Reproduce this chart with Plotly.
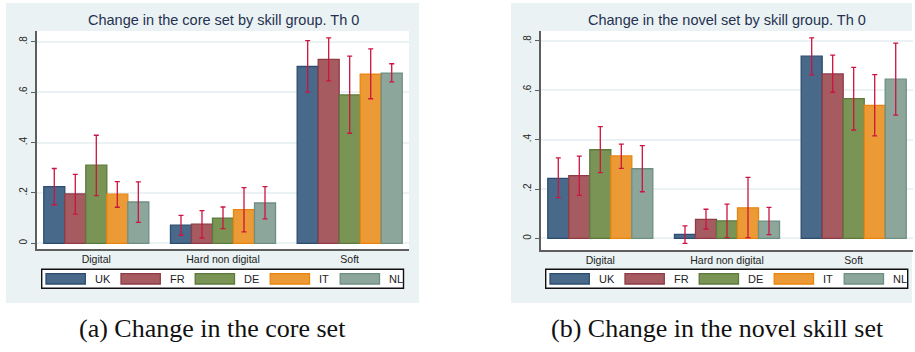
import numpy as np
import plotly.graph_objects as go

# ---------------- data ----------------
skill_groups = ["Digital", "Hard non digital", "Soft"]
countries = ["UK", "FR", "DE", "IT", "NL"]

# Panel (a): change in the core set
core_mean = {
    "UK": [0.225, 0.072, 0.702],
    "FR": [0.196, 0.076, 0.730],
    "DE": [0.310, 0.100, 0.589],
    "IT": [0.195, 0.134, 0.672],
    "NL": [0.164, 0.160, 0.676],
}
core_lo = {
    "UK": [0.153, 0.032, 0.600],
    "FR": [0.116, 0.021, 0.645],
    "DE": [0.189, 0.058, 0.437],
    "IT": [0.143, 0.045, 0.574],
    "NL": [0.083, 0.097, 0.641],
}
core_hi = {
    "UK": [0.297, 0.111, 0.805],
    "FR": [0.274, 0.130, 0.816],
    "DE": [0.429, 0.144, 0.743],
    "IT": [0.245, 0.221, 0.772],
    "NL": [0.244, 0.225, 0.713],
}

# Panel (b): change in the novel skill set
novel_mean = {
    "UK": [0.243, 0.016, 0.738],
    "FR": [0.254, 0.077, 0.666],
    "DE": [0.359, 0.071, 0.566],
    "IT": [0.334, 0.124, 0.539],
    "NL": [0.282, 0.070, 0.645],
}
novel_lo = {
    "UK": [0.165, -0.020, 0.662],
    "FR": [0.174, 0.038, 0.592],
    "DE": [0.266, 0.003, 0.439],
    "IT": [0.284, 0.003, 0.415],
    "NL": [0.189, 0.015, 0.499],
}
novel_hi = {
    "UK": [0.326, 0.051, 0.812],
    "FR": [0.333, 0.118, 0.742],
    "DE": [0.453, 0.139, 0.693],
    "IT": [0.382, 0.247, 0.663],
    "NL": [0.376, 0.126, 0.791],
}

y_tickvals = [0, 0.2, 0.4, 0.6, 0.8]
y_ticktext = ["0", ".2", ".4", ".6", ".8"]

titles = ["Change in the core set by skill group. Th 0",
          "Change in the novel set by skill group. Th 0"]
captions = ["(a) Change in the core set", "(b) Change in the novel skill set"]

# ---------------- style ----------------
W, H = 915, 352
fill_colors = {"UK": "#48698A", "FR": "#A65B60", "DE": "#7A9456", "IT": "#EC9A36", "NL": "#8CA69B"}
line_colors = {"UK": "#2C4D70", "FR": "#8F3C47", "DE": "#5B7A3B", "IT": "#E9850F", "NL": "#6F8E82"}
err_color = "#CC1440"
panel_bg = "#EAF2F3"
axis_col = "#5E5E5E"
font_sans = "Liberation Sans, Arial, sans-serif"


def px(x):
    return x / W


def py(y):
    return 1 - y / H


# panel geometry in pixels
panels = [
    dict(bg=(6, 3, 419, 303), plot=(37, 31, 409, 249), yr=[-0.0227, 0.843],
         legend=(41.7, 269.3, 403.5, 288.3), cap_x=212.5),
    dict(bg=(511, 3, 912, 303), plot=(541, 31, 913, 250), yr=[-0.047, 0.840],
         legend=(545.7, 269.3, 907.7, 288.3), cap_x=717),
]
data_sets = [(core_mean, core_lo, core_hi), (novel_mean, novel_lo, novel_hi)]

fig = go.Figure()
shapes = []
annotations = []

for k, (pan, (mean, lo, hi)) in enumerate(zip(panels, data_sets)):
    xa = "x" if k == 0 else "x2"
    ya = "y" if k == 0 else "y2"
    for c in countries:
        v = np.array(mean[c])
        fig.add_trace(go.Bar(
            x=skill_groups, y=v, name=c, xaxis=xa, yaxis=ya, showlegend=False,
            marker=dict(color=fill_colors[c], line=dict(color=line_colors[c], width=1.3)),
            error_y=dict(type="data", symmetric=False,
                         array=np.array(hi[c]) - v, arrayminus=v - np.array(lo[c]),
                         color=err_color, thickness=1.3, width=2.5),
        ))

    x0, y0, x1, y1 = pan["bg"]
    shapes.append(dict(type="rect", xref="paper", yref="paper", layer="below",
                       x0=px(x0), x1=px(x1), y0=py(y1), y1=py(y0),
                       fillcolor=panel_bg, line=dict(width=0)))
    p0, q0, p1, q1 = pan["plot"]
    shapes.append(dict(type="rect", xref="paper", yref="paper", layer="below",
                       x0=px(p0), x1=px(p1), y0=py(q1), y1=py(q0),
                       fillcolor="white", line=dict(width=0)))

    fig.update_layout(**{
        ("xaxis" if k == 0 else "xaxis2"): dict(
            domain=[px(p0), px(p1)], type="category", categoryorder="array",
            categoryarray=skill_groups, range=[-0.468, 2.468],
            showline=True, linecolor=axis_col, linewidth=1.5, ticks="",
            showgrid=False, zeroline=False, anchor=ya,
            tickfont=dict(family=font_sans, size=10.5, color="#222222")),
        ("yaxis" if k == 0 else "yaxis2"): dict(
            domain=[py(q1), py(q0)], range=pan["yr"], tickvals=y_tickvals,
            ticktext=y_ticktext, tickangle=-90, ticks="outside", ticklen=4,
            tickcolor=axis_col, tickwidth=1.2, showline=True, linecolor=axis_col,
            linewidth=1.5, showgrid=True, gridcolor=panel_bg, gridwidth=1.5,
            zeroline=False, anchor=xa,
            tickfont=dict(family=font_sans, size=10, color="#222222")),
    })

    # title
    annotations.append(dict(xref="paper", yref="paper", x=px((p0 + p1) / 2), y=py(20.5),
                            text=titles[k], showarrow=False, xanchor="center", yanchor="middle",
                            font=dict(family=font_sans, size=14.5, color="#243150")))
    # caption
    annotations.append(dict(xref="paper", yref="paper", x=px(pan["cap_x"]), y=py(328),
                            text=captions[k], showarrow=False, xanchor="center", yanchor="middle",
                            font=dict(family="Liberation Serif, Times New Roman, serif", size=26,
                                      color="#111111")))
    # legend
    lx0, ly0, lx1, ly1 = pan["legend"]
    shapes.append(dict(type="rect", xref="paper", yref="paper", layer="above",
                       x0=px(lx0), x1=px(lx1), y0=py(ly1), y1=py(ly0),
                       fillcolor="white", line=dict(color="#111111", width=1.4)))
    offsets = [4.3, 79.3, 153.5, 228.5, 298.5]
    cy = (ly0 + ly1) / 2
    for c, off in zip(countries, offsets):
        sx = lx0 + off
        shapes.append(dict(type="rect", xref="paper", yref="paper", layer="above",
                           x0=px(sx), x1=px(sx + 39.3), y0=py(cy + 5.2), y1=py(cy - 5.2),
                           fillcolor=fill_colors[c], line=dict(color=line_colors[c], width=1.3)))
        annotations.append(dict(xref="paper", yref="paper", x=px(sx + 46.5), y=py(cy),
                                text=c, showarrow=False, xanchor="left", yanchor="middle",
                                font=dict(family=font_sans, size=11, color="#222222")))

fig.update_layout(
    width=W, height=H, margin=dict(l=0, r=0, t=0, b=0),
    paper_bgcolor="white", plot_bgcolor="rgba(0,0,0,0)",
    barmode="group", bargap=0.171, bargroupgap=0,
    shapes=shapes, annotations=annotations, showlegend=False,
)

fig.write_html("out.html")
